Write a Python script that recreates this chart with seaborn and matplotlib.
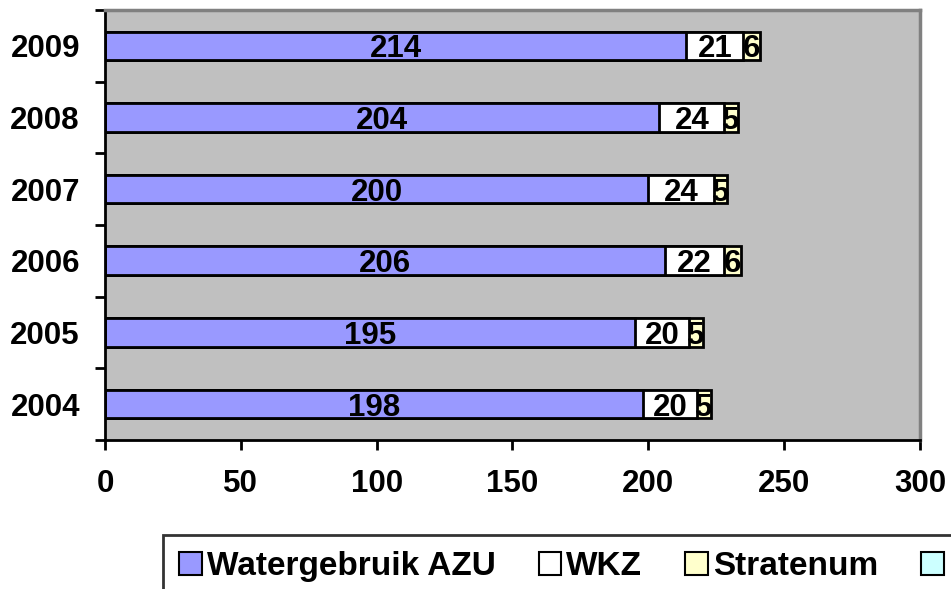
import pandas as pd
import seaborn as sns
import matplotlib.pyplot as plt
from matplotlib.patches import Patch
from matplotlib.ticker import FixedLocator

# 데이터
years = ["2009", "2008", "2007", "2006", "2005", "2004"]
watergebruik_azu = [214, 204, 200, 206, 195, 198]
wkz = [21, 24, 24, 22, 20, 20]
stratenum = [6, 5, 5, 6, 5, 5]

series_names = ["Watergebruik AZU", "WKZ", "Stratenum", ""]
series_colors = ["#9999FF", "#FFFFFF", "#FFFFCC", "#CCFFFF"]

df = pd.DataFrame(
    {"year": years, "azu": watergebruik_azu, "wkz": wkz, "strat": stratenum}
)
df["cum_wkz"] = df["azu"] + df["wkz"]
df["cum_strat"] = df["cum_wkz"] + df["strat"]

sns.set_theme(style="white")
plt.rcParams["font.family"] = ["Liberation Sans", "DejaVu Sans"]
plt.rcParams["font.weight"] = "bold"
plt.rcParams["text.color"] = "black"
plt.rcParams["xtick.color"] = "black"
plt.rcParams["ytick.color"] = "black"

fig = plt.figure(figsize=(9.51, 5.89), dpi=100)
ax = fig.add_axes([0.1104, 0.253, 0.857, 0.730])
ax.set_facecolor("#C0C0C0")

# 누적 막대: 긴 것부터 겹쳐 그리기
for col, color in [("cum_strat", series_colors[2]), ("cum_wkz", series_colors[1]), ("azu", series_colors[0])]:
    sns.barplot(
        data=df, x=col, y="year", order=years, orient="h", color=color,
        saturation=1, width=0.4, edgecolor="black", linewidth=2, ax=ax,
    )

# 구간 중앙 라벨
for i, row in df.iterrows():
    segments = [(0, row["azu"]), (row["azu"], row["wkz"]), (row["cum_wkz"], row["strat"])]
    for left, val in segments:
        ax.text(left + val / 2, i, f"{val}", ha="center", va="center_baseline",
                fontsize=22.5, fontweight="bold", color="black")

ax.set_xlim(0, 300)
ax.set_ylim(5.5, -0.5)
ax.set_xticks([0, 50, 100, 150, 200, 250, 300])
ax.set_xlabel("")
ax.set_ylabel("")
ax.yaxis.set_minor_locator(FixedLocator([-0.5, 0.5, 1.5, 2.5, 3.5, 4.5, 5.5]))
ax.tick_params(axis="x", which="major", direction="out", length=7, width=2,
               colors="black", labelsize=22.5, pad=14, bottom=True)
ax.tick_params(axis="y", which="major", length=0, labelsize=22.5, pad=18, left=True,
               colors="black")
ax.tick_params(axis="y", which="minor", direction="out", length=7, width=2,
               color="black", left=True)
for lab in ax.get_xticklabels() + ax.get_yticklabels():
    lab.set_fontweight("bold")

for side in ["left", "bottom"]:
    ax.spines[side].set_color("black")
    ax.spines[side].set_linewidth(2)
for side in ["top", "right"]:
    ax.spines[side].set_color("#808080")
    ax.spines[side].set_linewidth(2.5)

handles = [Patch(facecolor=c, edgecolor="black", linewidth=1.5) for c in series_colors]
leg = fig.legend(
    handles, series_names, loc="upper left", bbox_to_anchor=(0.171, 0.092),
    ncol=4, frameon=True, fancybox=False, edgecolor="black", facecolor="white",
    prop={"size": 24, "weight": "bold"}, handlelength=0.67, handleheight=0.67,
    handletextpad=0.15, columnspacing=1.3, borderpad=0.5, borderaxespad=0,
)
leg.get_frame().set_linewidth(2)
for t in leg.get_texts():
    t.set_color("black")

fig.savefig("out.png", dpi=100)
